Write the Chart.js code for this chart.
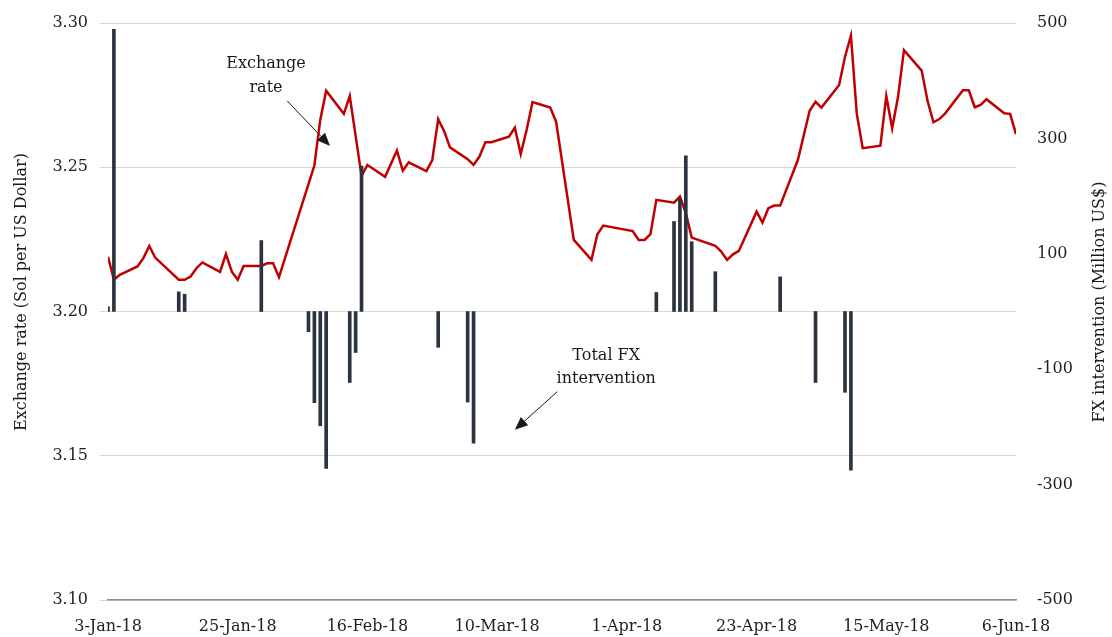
<!DOCTYPE html>
<html>
<head>
<meta charset="utf-8">
<script src="https://cdn.jsdelivr.net/npm/chart.js@4.4.1/dist/chart.umd.min.js"></script>
<style>
  html, body { margin: 0; padding: 0; background: #fff; }
  #wrap { width: 1112px; height: 637px; position: relative; }
</style>
</head>
<body>
<div id="wrap"><canvas id="chart"></canvas></div>
<script>
// exchange rate, daily (Sol per US$)
const rateDates = [
  '2018-01-03','2018-01-04','2018-01-05','2018-01-08','2018-01-09','2018-01-10','2018-01-11',
  '2018-01-15','2018-01-16','2018-01-17','2018-01-18','2018-01-19','2018-01-22','2018-01-23',
  '2018-01-24','2018-01-25','2018-01-26','2018-01-29','2018-01-30','2018-01-31','2018-02-01',
  '2018-02-07','2018-02-08','2018-02-09','2018-02-12','2018-02-13','2018-02-15','2018-02-16',
  '2018-02-19','2018-02-21','2018-02-22','2018-02-23','2018-02-26','2018-02-27','2018-02-28',
  '2018-03-01','2018-03-02','2018-03-05','2018-03-06','2018-03-07','2018-03-08','2018-03-09',
  '2018-03-12','2018-03-13','2018-03-14','2018-03-15','2018-03-16','2018-03-19','2018-03-20',
  '2018-03-23','2018-03-26','2018-03-27','2018-03-28','2018-04-02','2018-04-03','2018-04-04',
  '2018-04-05','2018-04-06','2018-04-09','2018-04-10','2018-04-11','2018-04-12','2018-04-16',
  '2018-04-17','2018-04-18','2018-04-19','2018-04-20','2018-04-23','2018-04-24','2018-04-25',
  '2018-04-26','2018-04-27','2018-04-30','2018-05-02','2018-05-03','2018-05-04','2018-05-07',
  '2018-05-08','2018-05-09','2018-05-10','2018-05-11','2018-05-14','2018-05-15','2018-05-16',
  '2018-05-17','2018-05-18','2018-05-21','2018-05-22','2018-05-23','2018-05-24','2018-05-25',
  '2018-05-28','2018-05-29','2018-05-30','2018-05-31','2018-06-01','2018-06-04','2018-06-05',
  '2018-06-06'
];
const rateValues = [
  3.219, 3.211, 3.2127, 3.2156, 3.2185, 3.2227, 3.2187,
  3.211, 3.211, 3.2121, 3.215, 3.217, 3.2137, 3.2199,
  3.2138, 3.211, 3.2158, 3.2158, 3.2167, 3.2167, 3.2119,
  3.2506, 3.2664, 3.2765, 3.2685, 3.2747, 3.247, 3.2508,
  3.2467, 3.2558, 3.2488, 3.2517, 3.2487, 3.2525, 3.2667,
  3.2626, 3.2569, 3.2528, 3.2508, 3.2537, 3.2587, 3.2587,
  3.2606, 3.2637, 3.2546, 3.2629, 3.2726, 3.2707, 3.2658,
  3.2248, 3.2179, 3.2268, 3.2298, 3.2279, 3.2248, 3.2248,
  3.2268, 3.2387, 3.2377, 3.2398, 3.2341, 3.2256, 3.2228,
  3.2208, 3.2179, 3.2198, 3.221, 3.2346, 3.2308, 3.2358,
  3.2367, 3.2367, 3.2525, 3.2696, 3.2727, 3.2707, 3.2785,
  3.2883, 3.2956, 3.2685, 3.2566, 3.2575, 3.2747, 3.2635,
  3.2745, 3.2906, 3.2835, 3.273, 3.2656, 3.2667, 3.2687,
  3.2767, 3.2767, 3.2708, 3.2716, 3.2736, 3.2687, 3.2685,
  3.2615
];

// total FX intervention (Million US$)
const fxDates = [
  '2018-01-03','2018-01-04','2018-01-15','2018-01-16','2018-01-29','2018-02-06','2018-02-07',
  '2018-02-08','2018-02-09','2018-02-13','2018-02-14','2018-02-15','2018-02-28','2018-03-05',
  '2018-03-06','2018-04-06','2018-04-09','2018-04-10','2018-04-11','2018-04-12','2018-04-16',
  '2018-04-27','2018-05-03','2018-05-08','2018-05-09'
];
const fxValues = [
  8, 489, 34, 30, 123, -35, -158,
  -198, -272, -123, -71, 252, -62, -157,
  -228, 33, 156, 196, 270, 121, 69,
  60, -123, -140, -275
];

const xTickLabels = ['3-Jan-18','25-Jan-18','16-Feb-18','10-Mar-18','1-Apr-18','23-Apr-18','15-May-18','6-Jun-18'];

const start = Date.UTC(2018, 0, 3);
function dayOf(s) {
    const [yy, mm, dd] = s.split('-').map(Number);
    return (Date.UTC(yy, mm - 1, dd) - start) / 86400000;
}

const FONT = "'DejaVu Serif', serif";
Chart.defaults.font.family = FONT;
Chart.defaults.font.size = 16;
Chart.defaults.color = '#1f1f1f';

function arrow(ctx, x1, y1, x2, y2) {
    const ang = Math.atan2(y2 - y1, x2 - x1);
    const len = 13, half = 5.5;
    const bx = x2 - len * Math.cos(ang), by = y2 - len * Math.sin(ang);
    ctx.beginPath();
    ctx.moveTo(x1, y1);
    ctx.lineTo(bx, by);
    ctx.stroke();
    ctx.beginPath();
    ctx.moveTo(x2, y2);
    ctx.lineTo(bx + half * Math.sin(ang), by - half * Math.cos(ang));
    ctx.lineTo(bx - half * Math.sin(ang), by + half * Math.cos(ang));
    ctx.closePath();
    ctx.fill();
}

// text notes + axis titles
const notes = {
    id: 'notes',
    afterDatasetsDraw(chart) {
        const { ctx, scales: { x, y, y1 } } = chart;
        ctx.save();
        ctx.fillStyle = '#1a1a1a';
        ctx.strokeStyle = '#1a1a1a';
        ctx.lineWidth = 1;
        ctx.font = '16px ' + FONT;
        ctx.textAlign = 'center';
        ctx.textBaseline = 'middle';

        let px = x.getPixelForValue(26.8), py = y.getPixelForValue(3.2858);
        ctx.fillText('Exchange', px, py);
        ctx.fillText('rate', px, py + 24);
        arrow(ctx, x.getPixelForValue(30.4), y.getPixelForValue(3.2730),
                   x.getPixelForValue(37.65), y.getPixelForValue(3.2574));

        px = x.getPixelForValue(84.5); py = y1.getPixelForValue(-77);
        ctx.fillText('Total FX', px, py);
        ctx.fillText('intervention', px, py + 23);
        arrow(ctx, x.getPixelForValue(76.2), y1.getPixelForValue(-139),
                   x.getPixelForValue(69.0), y1.getPixelForValue(-205));

        // axis titles, both read bottom to top
        ctx.save();
        ctx.translate(22, 292);
        ctx.rotate(-Math.PI / 2);
        ctx.fillText('Exchange rate (Sol per US Dollar)', 0, 0);
        ctx.restore();
        ctx.save();
        ctx.translate(1100, 302);
        ctx.rotate(-Math.PI / 2);
        ctx.fillText('FX intervention (Million US$)', 0, 0);
        ctx.restore();
        ctx.restore();
    }
};

const ctx = document.getElementById('chart');
new Chart(ctx, {
    type: 'bar',
    data: {
        datasets: [
            {
                type: 'bar',
                label: 'Total FX intervention',
                data: fxDates.map((d, i) => ({ x: dayOf(d), y: fxValues[i] })),
                yAxisID: 'y1',
                backgroundColor: '#2b3340',
                barThickness: 3,
                order: 0
            },
            {
                type: 'line',
                label: 'Exchange rate',
                data: rateDates.map((d, i) => ({ x: dayOf(d), y: rateValues[i] })),
                yAxisID: 'y',
                borderColor: '#c00000',
                borderWidth: 2.5,
                pointRadius: 0,
                tension: 0,
                order: 1
            }
        ]
    },
    options: {
        responsive: true,
        maintainAspectRatio: false,
        animation: false,
        devicePixelRatio: 1,
        layout: { padding: { top: 23, left: 0, right: 0, bottom: 0 } },
        plugins: { legend: { display: false }, tooltip: { enabled: false } },
        scales: {
            x: {
                type: 'linear',
                min: 0,
                max: 154,
                offset: false,
                grid: { display: false, offset: false },
                border: { display: true, color: '#8c8c8c', width: 1.5 },
                ticks: {
                    stepSize: 22,
                    autoSkip: false,
                    maxRotation: 0,
                    padding: 9,
                    callback: v => xTickLabels[Math.round(v / 22)]
                },
                afterFit: s => { s.height = 37; }
            },
            y: {
                position: 'left',
                min: 3.10,
                max: 3.30,
                grid: { color: '#d9d9d9', tickLength: 8 },
                border: { display: false },
                ticks: {
                    stepSize: 0.05,
                    padding: 12,
                    callback: v => v.toFixed(2)
                },
                afterFit: s => { s.width = 108; }
            },
            y1: {
                position: 'right',
                min: -500,
                max: 500,
                grid: { display: false, drawTicks: true, tickLength: 11 },
                border: { display: false },
                ticks: { stepSize: 200, padding: 10 },
                afterFit: s => { s.width = 96; }
            }
        }
    },
    plugins: [notes]
});
</script>
</body>
</html>
